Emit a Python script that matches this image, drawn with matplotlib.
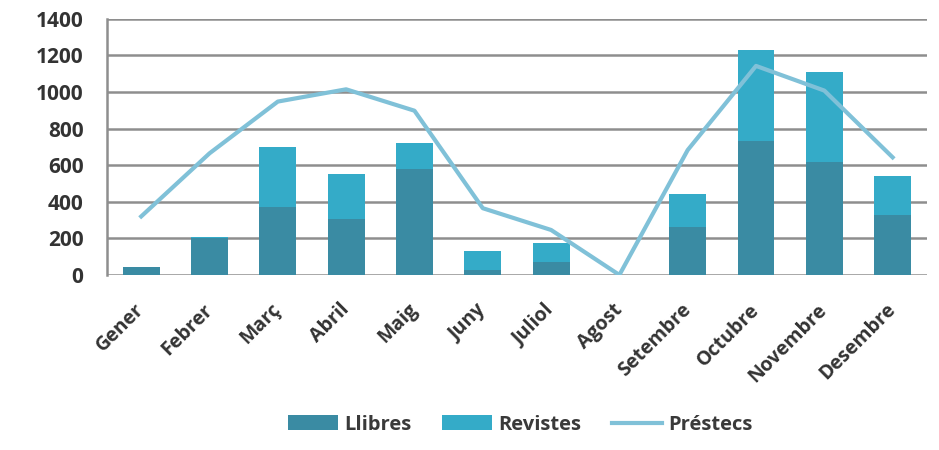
import matplotlib.pyplot as plt
import numpy as np

mesos = ['Gener', 'Febrer', 'Març', 'Abril', 'Maig', 'Juny', 'Juliol',
         'Agost', 'Setembre', 'Octubre', 'Novembre', 'Desembre']
llibres = [45, 200, 370, 305, 578, 25, 70, 0, 260, 735, 615, 328]
revistes = [0, 8, 332, 247, 145, 108, 103, 0, 183, 495, 497, 213]
prestecs = [320, 665, 948, 1015, 898, 365, 246, 0, 683, 1143, 1008, 643]

c_llibres = '#3a8ba3'
c_revistes = '#34abc8'
c_prestecs = '#80c1d8'

plt.rcParams['font.family'] = ['Open Sans', 'DejaVu Sans']

fig = plt.figure(figsize=(9.39, 4.5), dpi=100)
ax = fig.add_axes([0.114, 0.389, 0.873, 0.569])

x = np.arange(len(mesos))
b1 = ax.bar(x, llibres, width=0.54, color=c_llibres, label='Llibres', zorder=3)
b2 = ax.bar(x, revistes, width=0.54, bottom=llibres, color=c_revistes, label='Revistes', zorder=3)
l1, = ax.plot(x, prestecs, color=c_prestecs, lw=3, label='Préstecs', zorder=4)

ax.set_xlim(-0.5, 11.5)
ax.set_ylim(0, 1400)
ax.set_yticks(range(0, 1401, 200))
ax.yaxis.grid(True, color='#8e8e8e', lw=1.8, zorder=0)
for s in ['top', 'right', 'bottom']:
	ax.spines[s].set_visible(False)
ax.spines['left'].set_color('#8e8e8e')
ax.spines['left'].set_linewidth(1.8)
ax.tick_params(axis='y', length=0, pad=17)
ax.tick_params(axis='x', length=0, pad=23)
ax.set_xticks(x)
ax.set_xticklabels(mesos, rotation=45, ha='right', va='center', rotation_mode='anchor',
                   fontsize=14, fontweight='bold', color='#333333')
for t in ax.get_yticklabels():
	t.set_fontsize(15)
	t.set_fontweight('bold')
	t.set_color('#333333')

leg = fig.legend(handles=[b1, b2, l1], loc='center', bbox_to_anchor=(0.554, 0.056),
                 ncol=3, frameon=False, handlelength=2.5, handleheight=0.75,
                 columnspacing=1.5, handletextpad=0.3,
                 prop={'size': 14.5, 'weight': 'bold'})
for t in leg.get_texts():
	t.set_color('#3a3a3a')

fig.savefig('out.png', dpi=100)
